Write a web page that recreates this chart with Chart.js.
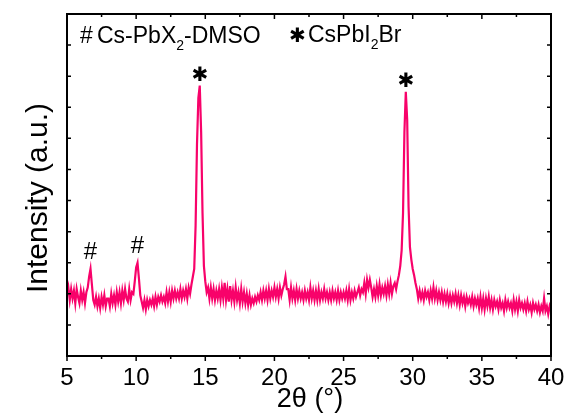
<!DOCTYPE html>
<html>
<head>
<meta charset="utf-8">
<script src="https://cdn.jsdelivr.net/npm/chart.js@4"></script>
<style>
  html, body { margin: 0; padding: 0; background: #fff; }
  #wrap { width: 566px; height: 419px; }
</style>
</head>
<body>
<div id="wrap"><canvas id="xrdChart"></canvas></div>
<script>
// XRD pattern, 2theta from 5 to 40 deg, step 0.1
const thetaStart = 5;
const thetaStep = 0.1;
const xTicks = [5, 10, 15, 20, 25, 30, 35, 40];

// intensity (a.u.), one row per degree
const intensity = [
  1.95, 2.20, 1.80, 2.15, 1.85, 2.10, 1.70, 2.15, 1.90, 1.70,
  2.10, 1.80, 2.05, 1.70, 2.05, 2.20, 2.55, 2.80, 2.30, 1.80,
  1.65, 1.90, 1.60, 1.85, 1.55, 1.90, 1.65, 1.95, 1.60, 1.85,
  1.85, 1.60, 2.00, 1.70, 1.95, 1.65, 2.05, 1.75, 2.05, 1.70,
  2.10, 1.80, 2.15, 1.85, 1.75, 2.15, 1.80, 2.05, 2.00, 2.40,
  2.85, 3.00, 2.50, 1.95, 1.75, 1.55, 1.80, 1.50, 1.80, 1.60,
  1.80, 1.65, 1.85, 1.60, 1.90, 1.65, 1.90, 1.75, 1.95, 1.75,
  1.90, 1.70, 2.05, 1.75, 2.05, 1.75, 2.10, 1.85, 2.10, 1.85,
  2.05, 1.85, 2.15, 1.85, 2.10, 1.90, 2.15, 1.85, 2.20, 2.00,
  2.30, 2.55, 2.80, 4.20, 6.80, 8.30, 8.70, 7.20, 4.60, 2.90,
  2.40, 2.05, 2.20, 1.85, 2.20, 1.85, 2.15, 1.80, 2.10, 1.85,
  2.15, 1.80, 2.20, 1.85, 2.35, 1.80, 2.15, 1.75, 2.25, 1.80,
  2.10, 1.75, 2.20, 1.80, 2.05, 1.70, 2.15, 1.75, 2.05, 1.70,
  2.00, 1.65, 1.95, 1.65, 1.85, 1.70, 1.90, 1.75, 1.95, 1.80,
  2.05, 1.80, 2.10, 1.85, 2.10, 1.80, 2.15, 1.85, 2.10, 1.90,
  2.20, 1.90, 2.15, 1.85, 2.20, 1.95, 2.15, 2.30, 2.55, 2.15,
  2.15, 1.80, 2.20, 1.85, 2.10, 1.80, 2.15, 1.85, 2.10, 1.85,
  2.05, 1.80, 2.10, 1.85, 2.05, 1.80, 2.20, 1.85, 2.10, 1.80,
  2.10, 1.80, 2.15, 1.80, 2.05, 1.85, 2.15, 1.85, 2.05, 1.80,
  2.05, 1.80, 2.10, 1.85, 2.05, 1.80, 2.10, 1.80, 2.05, 1.85,
  2.05, 1.85, 2.10, 1.80, 2.15, 1.80, 2.05, 1.85, 2.10, 1.90,
  2.05, 2.20, 1.95, 2.15, 2.05, 2.35, 2.00, 2.45, 2.20, 2.45,
  2.20, 1.90, 2.15, 1.90, 2.25, 1.95, 2.30, 1.95, 2.20, 2.00,
  2.25, 1.95, 2.30, 2.00, 2.35, 2.00, 2.25, 2.35, 2.15, 2.40,
  2.60, 2.90, 3.40, 4.60, 7.20, 8.50, 7.60, 4.80, 3.50, 3.10,
  2.80, 2.60, 2.35, 2.15, 1.85, 2.10, 1.85, 2.05, 1.80, 2.10,
  1.90, 2.05, 1.80, 2.10, 1.85, 2.20, 1.85, 2.10, 1.80, 2.05,
  1.80, 2.05, 1.75, 2.00, 1.75, 2.00, 1.70, 1.95, 1.70, 1.95,
  1.75, 2.00, 1.70, 1.95, 1.65, 1.95, 1.70, 1.90, 1.60, 1.90,
  1.70, 1.85, 1.65, 1.90, 1.60, 1.85, 1.65, 1.85, 1.55, 1.90,
  1.55, 1.85, 1.50, 1.85, 1.60, 1.90, 1.55, 1.80, 1.50, 1.80,
  1.60, 1.75, 1.50, 1.80, 1.55, 1.70, 1.45, 1.80, 1.55, 1.75,
  1.55, 1.70, 1.45, 1.80, 1.50, 1.75, 1.45, 1.80, 1.55, 1.70,
  1.50, 1.70, 1.45, 1.75, 1.50, 1.65, 1.40, 1.70, 1.50, 1.65,
  1.45, 1.65, 1.40, 1.60, 1.45, 1.85, 1.45, 1.60, 1.35, 1.60,
  1.45
];

// peak markers
const markerTheta = [6.7, 10.1, 14.6, 29.5];
const markerSymbol = ['#', '#', '\u2731', '\u2731'];

const points = intensity.map((v, i) => ({ x: +(thetaStart + i * thetaStep).toFixed(1), y: v }));

const FONT = "'Liberation Sans', Arial, sans-serif";

function drawSub(ctx, parts, x, y, size) {
  // parts: [text, isSubscript]
  let cx = x;
  parts.forEach(([t, sub]) => {
    ctx.font = (sub ? Math.round(size * 0.6) : size) + 'px ' + FONT;
    ctx.fillText(t, cx, sub ? y + size * 0.3 : y);
    cx += ctx.measureText(t).width;
  });
}

const framePlugin = {
  id: 'frame',
  afterDraw(chart) {
    const ctx = chart.ctx;
    const a = chart.chartArea;
    const xs = chart.scales.x, ys = chart.scales.y;
    ctx.save();
    ctx.strokeStyle = '#000';
    ctx.fillStyle = '#000';
    ctx.lineWidth = 2;
    ctx.strokeRect(a.left, a.top, a.right - a.left, a.bottom - a.top);

    ctx.lineWidth = 1.5;
    ctx.beginPath();
    // x ticks: majors every 5, minors every 2.5
    for (let v = 5; v <= 40; v += 2.5) {
      const px = xs.getPixelForValue(v);
      const major = v % 5 === 0;
      ctx.moveTo(px, a.bottom);
      ctx.lineTo(px, a.bottom + (major ? 5 : 3));
      ctx.moveTo(px, a.top);
      ctx.lineTo(px, a.top + (major ? 5 : 3));
    }
    // y ticks, inward on both sides
    for (let v = 1; v <= 10; v++) {
      const py = ys.getPixelForValue(v);
      ctx.moveTo(a.left, py);
      ctx.lineTo(a.left + 4, py);
      ctx.moveTo(a.right, py);
      ctx.lineTo(a.right - 4, py);
    }
    ctx.stroke();

    // x tick labels
    ctx.font = '24px ' + FONT;
    ctx.textAlign = 'center';
    ctx.textBaseline = 'alphabetic';
    xTicks.forEach(v => {
      ctx.fillText(String(v), xs.getPixelForValue(v), 385);
    });

    // axis titles
    ctx.font = '27px ' + FONT;
    ctx.fillText('2\u03b8 (\u00b0)', 310, 407);
    ctx.save();
    ctx.translate(47, 198);
    ctx.rotate(-Math.PI / 2);
    ctx.font = '30px ' + FONT;
    ctx.fillText('Intensity (a.u.)', 0, 0);
    ctx.restore();

    // peak markers
    markerTheta.forEach((t, i) => {
      const idx = Math.round((t - thetaStart) / thetaStep);
      const px = xs.getPixelForValue(t);
      const py = ys.getPixelForValue(intensity[idx]);
      if (markerSymbol[i] === '#') {
        ctx.font = '24px ' + FONT;
        ctx.fillText('#', px, py - 10);
      } else {
        ctx.font = 'bold 20px DejaVu Sans';
        ctx.fillText(markerSymbol[i], px, py - 5);
      }
    });

    // legend text
    ctx.textAlign = 'left';
    ctx.font = '23px ' + FONT;
    ctx.fillText('#', 80, 43);
    drawSub(ctx, [['Cs-PbX', false], ['2', true], ['-DMSO', false]], 97, 43, 23);
    ctx.font = 'bold 20px DejaVu Sans';
    ctx.fillText('\u2731', 289, 42);
    drawSub(ctx, [['CsPbI', false], ['2', true], ['Br', false]], 308, 42, 23);
    ctx.restore();
  }
};

new Chart('xrdChart', {
  type: 'line',
  data: {
    datasets: [{
      data: points,
      borderColor: '#f8026a',
      borderWidth: 2.2,
      pointRadius: 0,
      tension: 0,
      fill: false
    }]
  },
  options: {
    responsive: true,
    maintainAspectRatio: false,
    animation: false,
    devicePixelRatio: 1,
    layout: { padding: { top: 14, right: 15, left: 0, bottom: 0 } },
    plugins: {
      legend: { display: false },
      tooltip: { enabled: false }
    },
    scales: {
      x: {
        type: 'linear',
        min: 5,
        max: 40,
        grid: { display: false },
        border: { display: false },
        ticks: { display: false },
        afterFit: s => { s.height = 63; }
      },
      y: {
        min: 0,
        max: 11,
        grid: { display: false },
        border: { display: false },
        ticks: { display: false },
        afterFit: s => { s.width = 67; }
      }
    }
  },
  plugins: [framePlugin]
});
</script>
</body>
</html>
